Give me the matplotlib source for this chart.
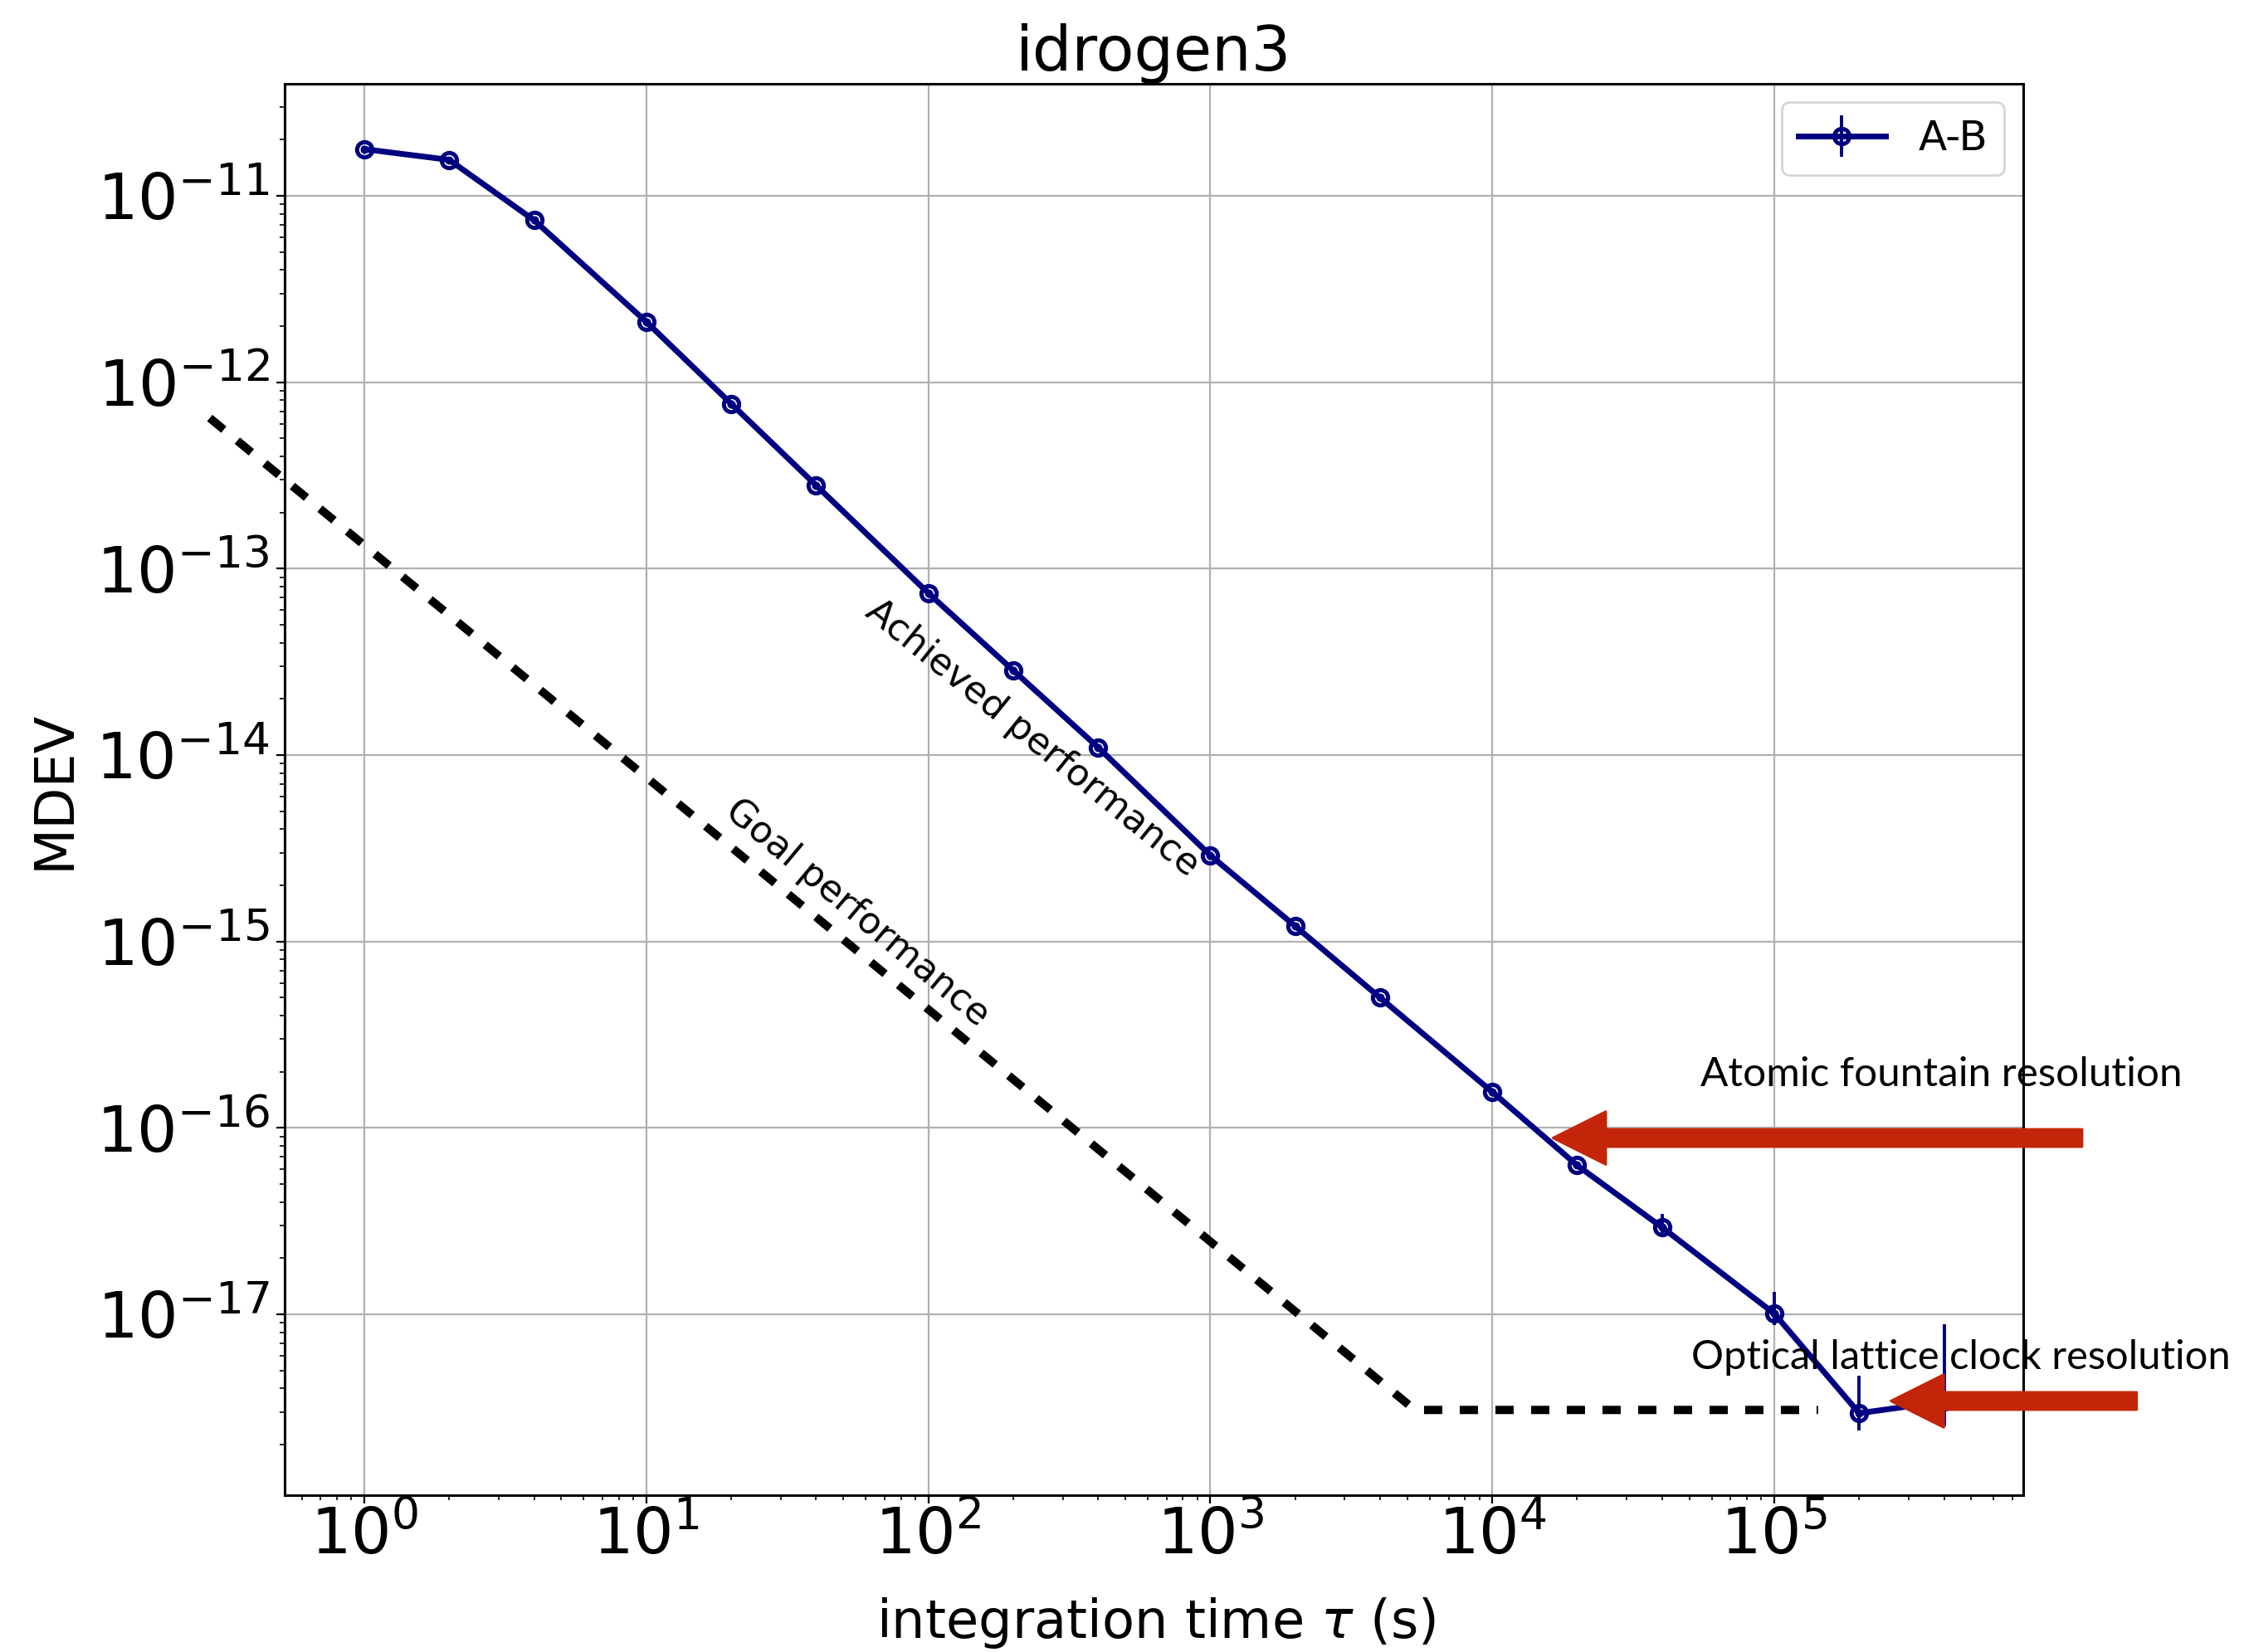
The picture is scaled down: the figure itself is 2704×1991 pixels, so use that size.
import matplotlib
matplotlib.use('Agg')
import matplotlib.pyplot as plt

# measured A-B modified deviation
tau = [1, 2, 4, 10, 20, 40, 100, 200, 400, 1000, 2000, 4000,
       1e4, 2e4, 4e4, 1e5, 2e5, 4e5]
mdev = [1.78e-11, 1.56e-11, 7.4e-12, 2.11e-12, 7.67e-13, 2.8e-13,
        7.4e-14, 2.85e-14, 1.1e-14, 2.9e-15, 1.21e-15, 5.0e-16,
        1.56e-16, 6.3e-17, 2.93e-17, 1.01e-17, 2.95e-18, 3.41e-18]
err_lo = [1e-13, 1e-13, 5e-14, 2e-14, 8e-15, 3e-15,
          1e-15, 4e-16, 2e-16, 6e-17, 3e-17, 1.5e-17,
          6e-18, 3e-18, 2e-18, 1.35e-18, 0.57e-18, 0.9e-18]
err_hi = [1e-13, 1e-13, 5e-14, 2e-14, 8e-15, 3e-15,
          1e-15, 4e-16, 2e-16, 6e-17, 3e-17, 1.5e-17,
          6e-18, 3e-18, 5.3e-18, 3.1e-18, 1.74e-18, 5.44e-18]

# goal curve (hand drawn overlay)
goal_tau = [0.283, 5320, 1.43e5]
goal_mdev = [6.43e-13, 3.07e-18, 3.07e-18]

# red arrows: (tip tau, tail tau, level)
fountain = (1.64e4, 1.236e6, 8.83e-17)
lattice = (2.59e5, 1.93e6, 3.43e-18)

RED = '#c42508'

fig = plt.figure(figsize=(13.52, 9.955), dpi=200)
ax = fig.add_axes([343/2704, 1 - 1802/1991, 2095/2704, 1701/1991])

ax.errorbar(tau, mdev, yerr=[err_lo, err_hi], fmt='-', marker='o',
            color='navy', lw=2.5, ms=6.6, mew=1.8, mfc='none', mec='navy',
            elinewidth=1.4, label='A-B', zorder=3)
ax.plot(tau, mdev, 'o', color='navy', ms=3.6, mew=0, zorder=4)

ax.plot(goal_tau, goal_mdev, color='black', lw=3.6, linestyle=(0, (2.2, 2.1)),
        clip_on=False, zorder=2)

ax.set_xscale('log')
ax.set_yscale('log')
ax.set_xlim(10**-0.2825, 10**5.883)
ax.set_ylim(10**-17.970, 10**-10.399)
ax.grid(True)

ax.tick_params(axis='both', which='major', labelsize=27.5)
ax.tick_params(axis='x', which='major', pad=1)
ax.tick_params(axis='y', which='major', pad=3)
for s in ax.spines.values():
    s.set_linewidth(1.1)

ax.set_title('idrogen3', fontsize=27, pad=2)
ax.set_xlabel(r'integration time $\tau$ (s)', fontsize=23)
ax.set_ylabel('MDEV', fontsize=23.5)
ax.xaxis.set_label_coords(0.501, -0.071)
ax.yaxis.set_label_coords(-0.117, 0.5)

ax.legend(loc='upper right', fontsize=18, handlelength=2.1, borderaxespad=0.45)

ax.text(234, 1.23e-14, 'Achieved performance', rotation=-39, fontsize=16,
        ha='center', va='center', rotation_mode='anchor')
ax.text(56, 1.43e-15, 'Goal performance', rotation=-40, fontsize=16,
        ha='center', va='center', rotation_mode='anchor')

ax.text(5.47e4, 1.67e-16, 'Atomic fountain resolution', family='Lato',
        fontsize=17.8, va='baseline', clip_on=False, zorder=6)
ax.text(5.08e4, 5.08e-18, 'Optical lattice clock resolution', family='Lato',
        fontsize=17.6, va='baseline', clip_on=False, zorder=6)

for tip, tail, lev in [fountain, lattice]:
    ax.annotate('', xy=(tip, lev), xytext=(tail, lev), annotation_clip=False,
                arrowprops=dict(arrowstyle='simple,head_length=2.3,head_width=2.3,tail_width=0.76',
                                color=RED, shrinkA=0, shrinkB=0, mutation_scale=10),
                zorder=7)

fig.savefig('out.png', dpi=200)
